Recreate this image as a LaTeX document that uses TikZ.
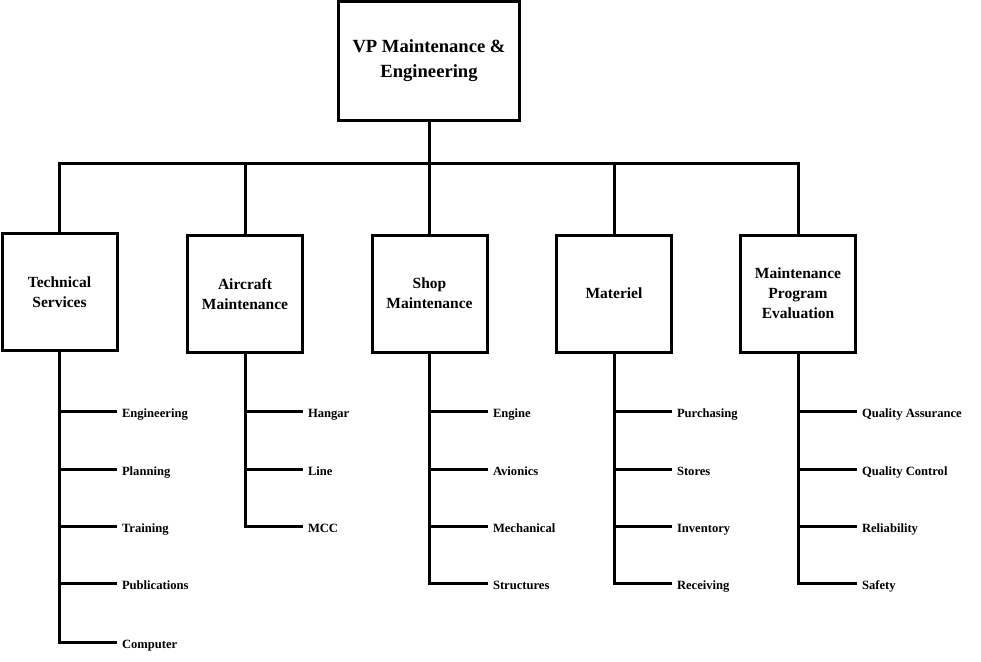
\documentclass[tikz,border=0pt]{standalone}
\usepackage{fontspec}
\setmainfont{Liberation Serif}
\begin{document}
\begin{tikzpicture}[x=1pt,y=-1pt,
  line width=3pt, line join=miter,
  topbox/.style={draw, line width=3pt, minimum width=181pt, minimum height=118pt, align=center,
    font=\fontsize{18.6}{25}\selectfont\bfseries, inner sep=2pt},
  box/.style={draw, line width=3pt, minimum width=115pt, minimum height=117pt, align=center,
    font=\fontsize{15.5}{20}\selectfont\bfseries, inner sep=2pt},
  leaf/.style={anchor=west, font=\fontsize{12.6}{15}\selectfont\bfseries,
    text height=12pt, text depth=0pt, inner xsep=5pt, inner ysep=0pt, outer sep=0pt},
  link/.style={line width=3pt}]
\useasboundingbox (0,0) rectangle (981,661);
\node[topbox] (vp) at (429,61) {VP Maintenance \&\\Engineering};
\node[box] (ts) at (59.5,292) {Technical\\Services};
\node[box] (am) at (245,294) {Aircraft\\Maintenance};
\node[box] (sm) at (429.5,293.5) {Shop\\Maintenance};
\node[box] (mat) at (614,293.5) {Materiel};
\node[box] (mpe) at (798,293.5) {Maintenance\\Program\\Evaluation};
\coordinate (bar) at (429,163);
\draw[link] (vp.south) -- (bar);
\draw[link] (ts.north) -- (ts.north |- bar) -- (mpe.north |- bar) -- (mpe.north);
\foreach \n in {am,sm,mat} \draw[link] (\n.north |- bar) -- (\n.north);
% Technical Services
\node[leaf] (ts1) at (117,411) {Engineering};
\node[leaf] (ts2) at (117,469) {Planning};
\node[leaf] (ts3) at (117,526) {Training};
\node[leaf] (ts4) at (117,583) {Publications};
\node[leaf] (ts5) at (117,642) {Computer};
\draw[link] (ts.south) |- (ts5.west);
\foreach \k in {1,2,3,4} \draw[link] (ts.south |- ts\k.west) -- (ts\k.west);
% Aircraft Maintenance
\node[leaf] (am1) at (303,411) {Hangar};
\node[leaf] (am2) at (303,469) {Line};
\node[leaf] (am3) at (303,526) {MCC};
\draw[link] (am.south) |- (am3.west);
\foreach \k in {1,2} \draw[link] (am.south |- am\k.west) -- (am\k.west);
% Shop Maintenance
\node[leaf] (sm1) at (488,411) {Engine};
\node[leaf] (sm2) at (488,469) {Avionics};
\node[leaf] (sm3) at (488,526) {Mechanical};
\node[leaf] (sm4) at (488,583) {Structures};
\draw[link] (sm.south) |- (sm4.west);
\foreach \k in {1,2,3} \draw[link] (sm.south |- sm\k.west) -- (sm\k.west);
% Materiel
\node[leaf] (mat1) at (672,411) {Purchasing};
\node[leaf] (mat2) at (672,469) {Stores};
\node[leaf] (mat3) at (672,526) {Inventory};
\node[leaf] (mat4) at (672,583) {Receiving};
\draw[link] (mat.south) |- (mat4.west);
\foreach \k in {1,2,3} \draw[link] (mat.south |- mat\k.west) -- (mat\k.west);
% Maintenance Program Evaluation
\node[leaf] (mpe1) at (857,411) {Quality Assurance};
\node[leaf] (mpe2) at (857,469) {Quality Control};
\node[leaf] (mpe3) at (857,526) {Reliability};
\node[leaf] (mpe4) at (857,583) {Safety};
\draw[link] (mpe.south) |- (mpe4.west);
\foreach \k in {1,2,3} \draw[link] (mpe.south |- mpe\k.west) -- (mpe\k.west);
\end{tikzpicture}
\end{document}
